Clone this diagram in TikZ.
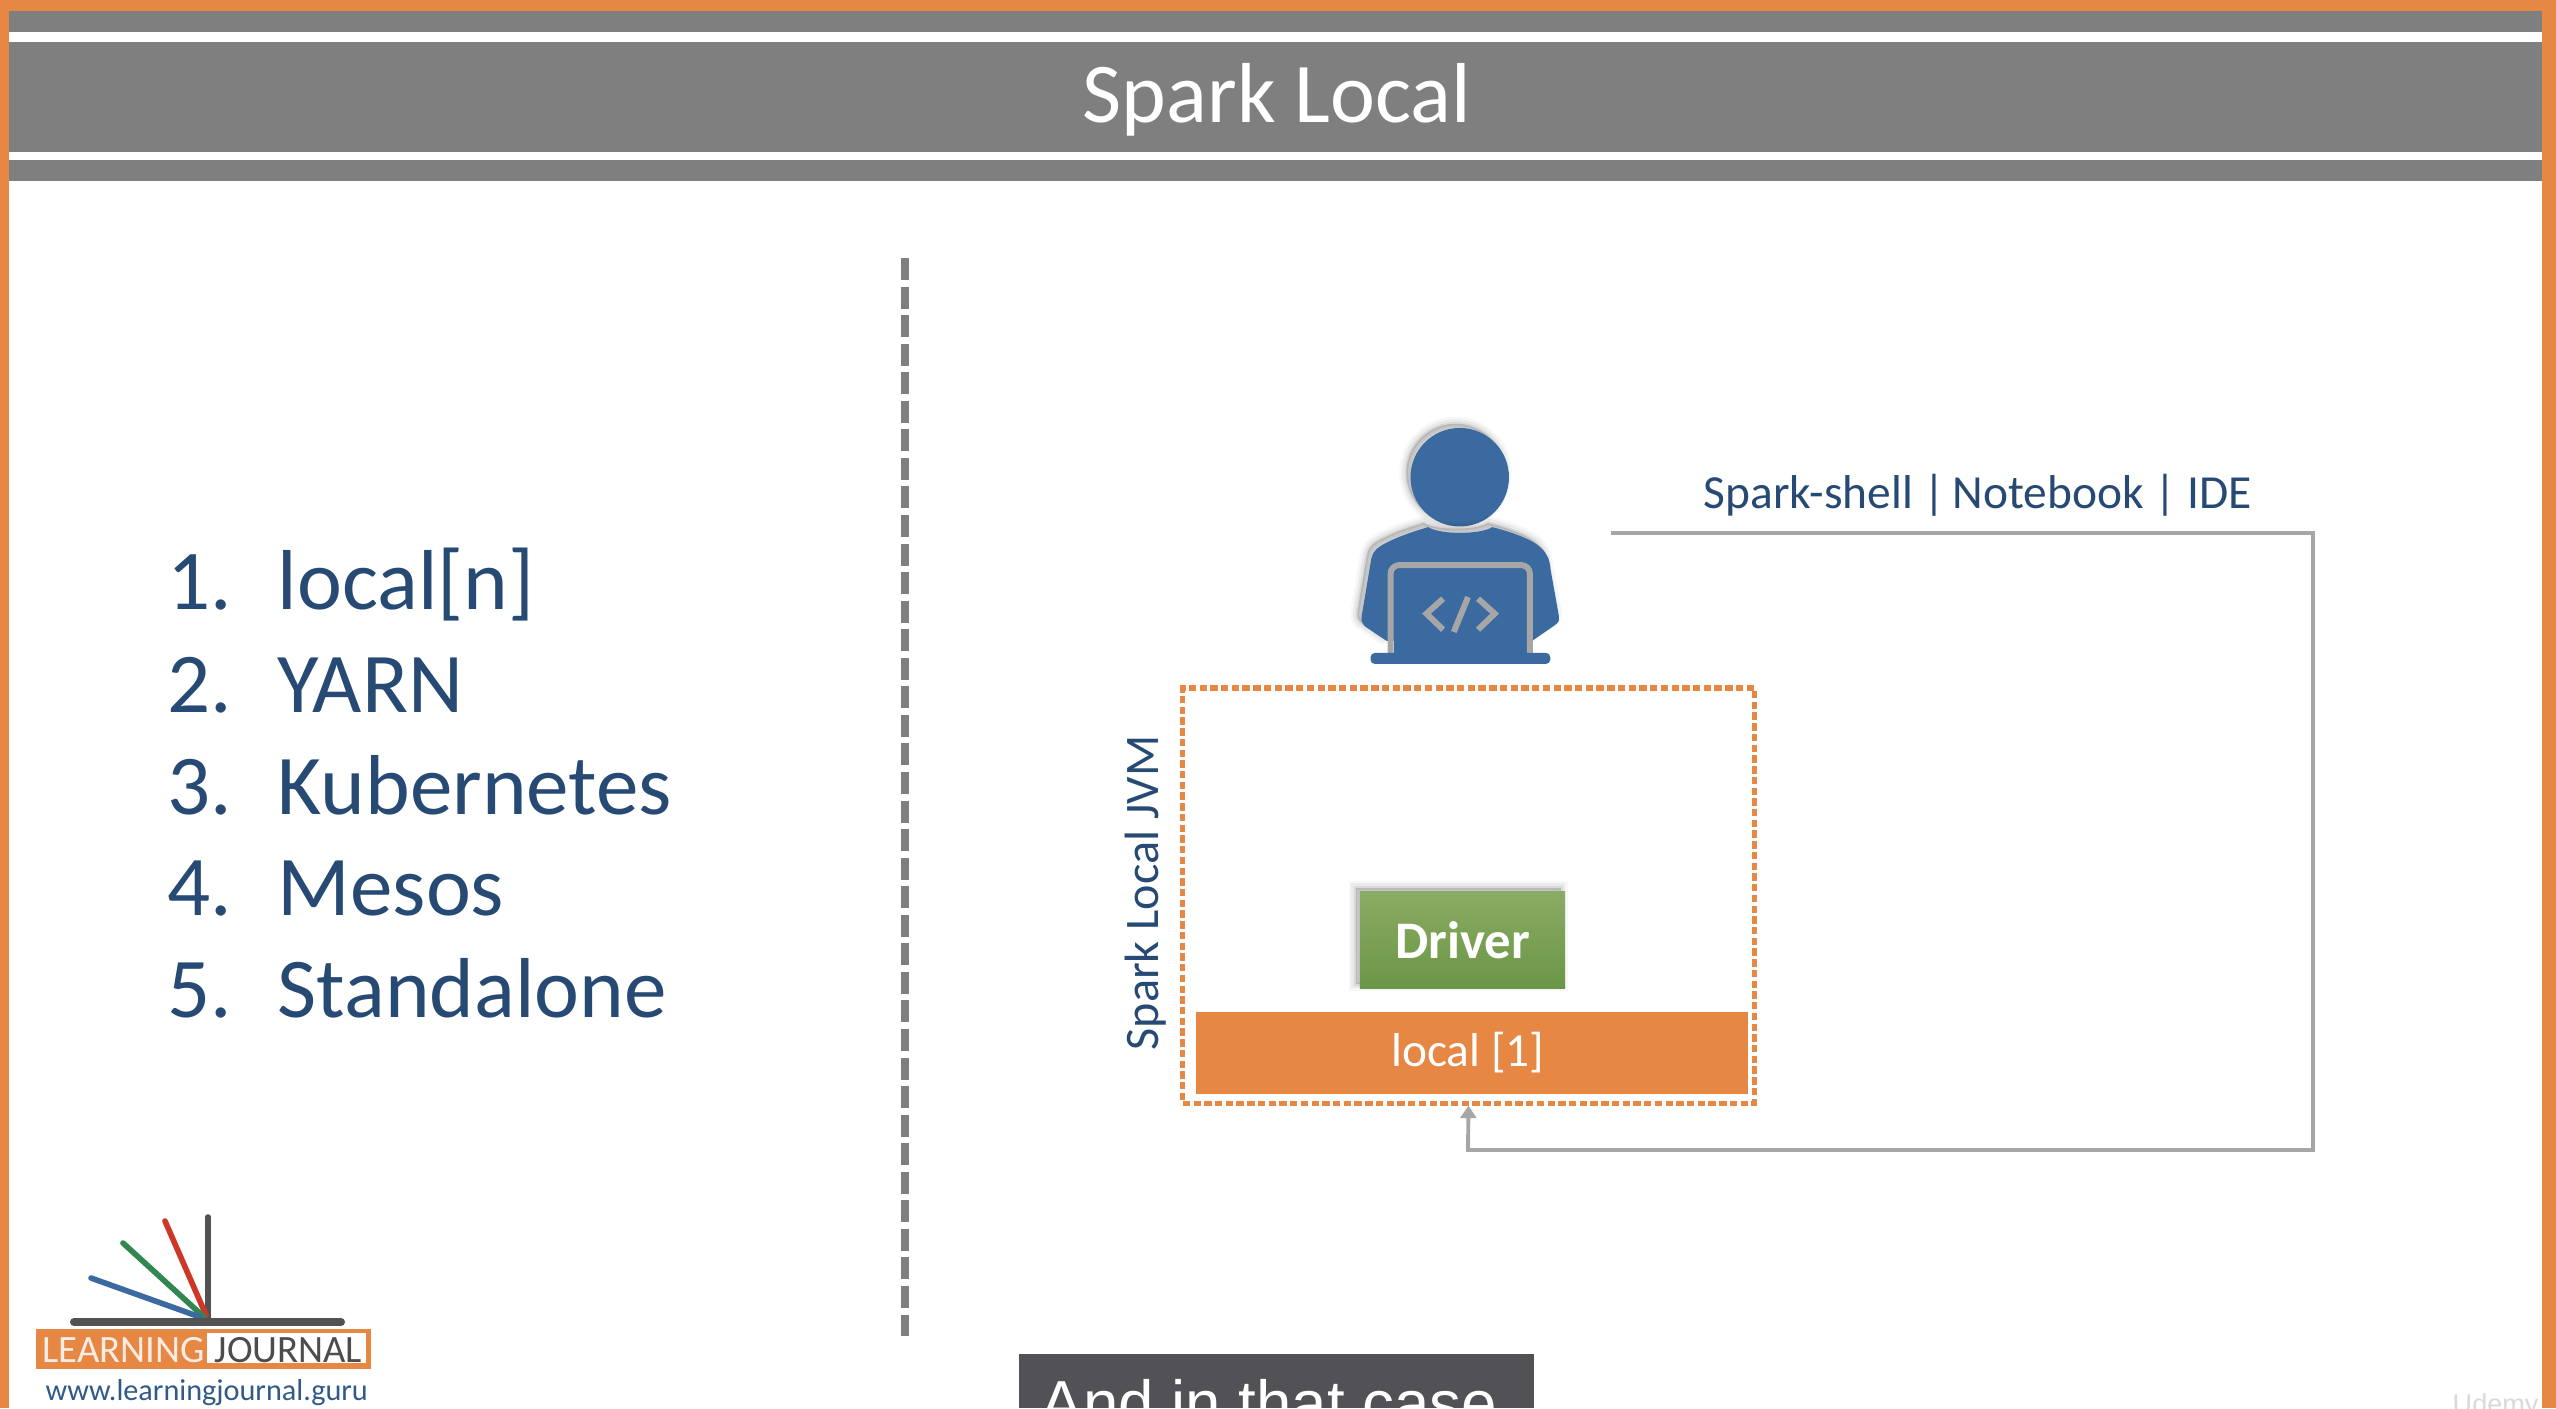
\documentclass[tikz,border=0pt]{standalone}
\usepackage{fontspec}
\setmainfont{Carlito}
\newfontfamily\capfont{Liberation Sans}
\usetikzlibrary{positioning,arrows.meta}
\definecolor{frameorange}{RGB}{230,135,68}
\definecolor{bandgray}{RGB}{127,127,127}
\definecolor{inknavy}{RGB}{38,74,115}
\definecolor{userblue}{RGB}{58,106,159}
\definecolor{linegray}{RGB}{166,166,166}
\definecolor{captiongray}{RGB}{82,82,86}
\definecolor{drivertop}{RGB}{138,171,99}
\definecolor{driverbot}{RGB}{107,150,70}
\definecolor{logored}{RGB}{205,55,40}
\definecolor{logogreen}{RGB}{50,135,80}

\begin{document}
\begin{tikzpicture}[
    x=0.01cm, y=-0.01cm,
    band/.style={fill=bandgray},
    listitem/.style={anchor=base west, inner sep=0pt, text=inknavy, font=\fontsize{24.2}{28}\selectfont},
    link/.style={draw=linegray, line width=1.1pt},
    softshadow/.style={
        preaction={fill=black, draw=black, opacity=.03, line width=4pt, transform canvas={xshift=-1.2pt, yshift=1.2pt}},
        preaction={fill=black, draw=black, opacity=.05, line width=2.5pt, transform canvas={xshift=-1.2pt, yshift=1.2pt}},
        preaction={fill=black, draw=black, opacity=.07, line width=1pt, transform canvas={xshift=-1.2pt, yshift=1.2pt}}},
    codeline/.style={draw=linegray, line width=1.7pt},
    logoline/.style={line width=1.6pt, line cap=round}
]
\useasboundingbox (0,0) rectangle (2556,1408);
\clip (0,0) rectangle (2556,1408);

% Frame and title band
\fill[frameorange] (0,0) rectangle (2556,1408);
\fill[white] (9,11) rectangle (2542,1408);
\fill[band] (9,11) rectangle (2542,32);
\fill[band] (9,42) rectangle (2542,152);
\fill[band] (9,160) rectangle (2542,181);
\node[text=white, inner sep=0pt, font=\fontsize{24.2}{28}\selectfont] (title) at (1277,100) {Spark Local};

% Divider
\coordinate (divtop) at (905,258);
\coordinate (divbot) at (905,1336);
\draw[bandgray, line width=2.28pt, dash pattern=on 6.26pt off 1.86pt] (divtop) -- (divbot);

% Cluster managers
\foreach \num/\name/\y in {1/local[n]/609, 2/YARN/712, 3/Kubernetes/814, 4/Mesos/915, 5/Standalone/1017} {
    \node[listitem] (num\num) at (167,\y) {\num.};
    \node[listitem] (item\num) at (277,\y) {\name};
}

% User with laptop
\begin{scope}[shift={(1300,400)}, x=0.00333cm, y=-0.00333cm]
    \fill[userblue, softshadow] (480,232) circle (148);
    \fill[userblue, softshadow] (385,382) .. controls (420,405) and (540,405) .. (578,382)
        .. controls (640,398) and (700,420) .. (725,445)
        .. controls (745,465) and (750,480) .. (753,510)
        -- (778,650) .. controls (780,665) and (775,670) .. (765,677)
        -- (700,722) -- (262,725) -- (195,680)
        .. controls (185,670) and (183,660) .. (186,645)
        -- (212,490) .. controls (216,460) and (225,450) .. (240,440)
        .. controls (280,415) and (340,395) .. (385,382) -- cycle;
    \fill[white] (262,725) rectangle (700,760);
    \fill[userblue] (283,505) rectangle (683,770);
    \draw[linegray, line width=1.7pt, rounded corners=2.5pt] (272,760) -- (272,496) -- (691,496) -- (691,760);
    \fill[userblue, rounded corners=1.2pt] (212,760) -- (752,760) -- (752,793) -- (212,793) -- cycle;
    \draw[codeline] (430,597) -- (380,642) -- (430,690);
    \draw[codeline] (505,592) -- (462,697);
    \draw[codeline] (535,597) -- (585,642) -- (535,690);
\end{scope}

% Spark local JVM
\node[draw=frameorange, line width=1.5pt, dash pattern=on 2.1pt off 0.95pt, minimum width=5.71cm, minimum height=4.15cm, inner sep=0pt] (jvm) at (1468.5,895.5) {};
\node[rotate=90, text=inknavy, inner sep=0pt, font=\fontsize{13.7}{16}\selectfont] (jvmlabel) at (1146,893) {Spark Local JVM};
\node[softshadow, top color=drivertop, bottom color=driverbot, minimum width=2.05cm, minimum height=0.96cm, inner sep=0pt, text=white, font=\fontsize{15}{18}\selectfont\bfseries] (driver) at (1462.5,940) {Driver};
\node[fill=frameorange, minimum width=5.52cm, minimum height=0.82cm, inner sep=0pt, text=white, font=\fontsize{13.5}{16}\selectfont] (local) at (1472,1053) {\hspace{-2.3pt}local [1]};

% Connector from the tools to the JVM
\node[anchor=base west, inner sep=0pt, text=inknavy, font=\fontsize{13.5}{16}\selectfont] (tools) at (1703,508) {Spark-shell |\hspace{2pt}Notebook | IDE};
\coordinate (linestart) at (1611,533);
\coordinate (linecorner) at (2313,533);
\coordinate (linelow) at (2313,1150);
\coordinate (linefoot) at (1468,1150);
\draw[link, -{Triangle[length=3.5pt, width=4.5pt]}] (linestart) -- (linecorner) -- (linelow) -- (linefoot) -- (jvm.south);

% Logo
\draw[logoline, color=black!68] (208,1217) -- (208,1318);
\draw[logoline, color=logored] (165,1221) -- (206,1315);
\draw[logoline, color=logogreen] (123,1243) -- (204,1317);
\draw[logoline, color=userblue] (91,1278) -- (200,1317);
\draw[color=black!68, line width=2.3pt, line cap=round] (74,1322) -- (341,1322);
\fill[frameorange] (36,1329) rectangle (371,1369);
\fill[white] (207,1333) rectangle (366,1363);
\node[anchor=base west, inner sep=0pt, text=white!85!frameorange, font=\fontsize{11}{13}\selectfont] (logoleft) at (42,1362) {LEARNING};
\node[anchor=base west, inner sep=0pt, text=black!70, font=\fontsize{11}{13}\selectfont] (logoright) at (214,1362) {JOURNAL};
\node[anchor=base west, inner sep=0pt, text=userblue!85!black, font=\fontsize{8.6}{10}\selectfont] (logourl) at (45,1400) {www.learningjournal.guru};

% Caption and watermark
\fill[captiongray] (1019,1354) rectangle (1534,1408);
\node[anchor=base west, inner sep=0pt, text=white, font=\capfont\fontsize{18.1}{22}\selectfont] (caption) at (1040,1425) {And in that case};
\node[anchor=base west, inner sep=0pt, text=black!15, font=\capfont\fontsize{7.7}{9}\selectfont] (mark) at (2452,1413) {Udemy};
\end{tikzpicture}
\end{document}
